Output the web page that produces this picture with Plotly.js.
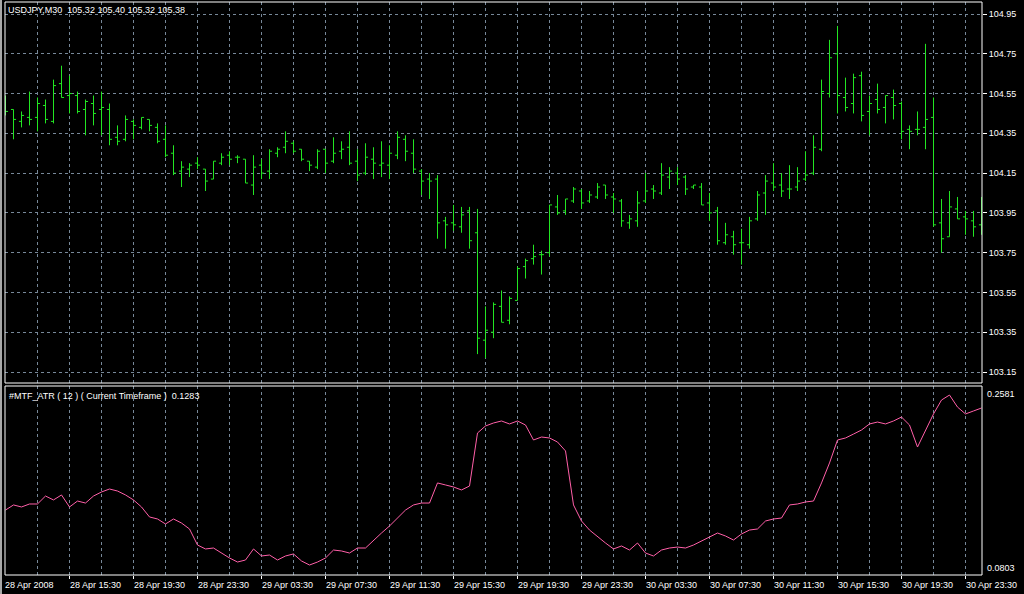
<!DOCTYPE html>
<html><head><meta charset="utf-8">
<script src="https://cdn.plot.ly/plotly-3.0.1.min.js"></script>
<style>html,body{margin:0;padding:0;background:#000;}#c{width:1024px;height:594px;}</style>
</head><body><div id="c"></div>
<script>
// USDJPY M30 bars, 28 Apr 2008 11:30 onward (bar index)
const openP = [104.50,104.47,104.41,104.43,104.43,104.49,104.41,104.60,104.54,104.54,104.47,104.50,104.47,104.47,104.33,104.32,104.41,104.38,104.42,104.38,
104.32,104.25,104.16,104.17,104.20,104.17,104.12,104.20,104.24,104.23,104.22,104.09,104.19,104.16,104.25,104.28,104.30,104.27,104.21,104.18,
104.27,104.21,104.26,104.28,104.21,104.15,104.22,104.19,104.19,104.24,104.32,104.25,104.16,104.12,104.12,103.91,103.90,103.88,103.96,103.85,
103.31,103.35,103.48,103.41,103.51,103.68,103.72,103.74,103.75,103.98,103.96,104.01,104.06,104.01,104.03,104.09,104.03,104.01,103.90,103.91,
104.01,104.07,104.05,104.13,104.15,104.13,104.08,104.08,104.00,103.96,103.80,103.83,103.80,103.79,103.92,104.05,104.10,104.09,104.07,104.08,
104.12,104.15,104.27,104.55,104.75,104.53,104.50,104.64,104.46,104.52,104.48,104.53,104.50,104.37,104.37,104.38,104.43,103.90,103.83,103.97,
103.93,103.91,103.89];
const highP = [104.54,104.47,104.46,104.56,104.53,104.52,104.62,104.69,104.64,104.56,104.52,104.54,104.56,104.50,104.39,104.44,104.42,104.43,104.42,104.40,
104.39,104.29,104.21,104.20,104.23,104.17,104.21,104.25,104.26,104.24,104.22,104.24,104.22,104.27,104.28,104.36,104.31,104.27,104.21,104.27,
104.27,104.33,104.31,104.36,104.27,104.30,104.28,104.31,104.29,104.36,104.34,104.32,104.17,104.15,104.14,103.93,103.99,103.98,103.98,103.97,
103.48,103.50,103.56,103.53,103.68,103.72,103.79,103.76,103.99,104.04,104.02,104.08,104.07,104.06,104.10,104.09,104.05,104.02,103.94,104.06,
104.15,104.09,104.20,104.18,104.18,104.14,104.09,104.10,104.05,103.98,103.90,103.86,103.87,103.93,104.06,104.14,104.20,104.15,104.19,104.18,
104.26,104.34,104.62,104.82,104.89,104.63,104.65,104.66,104.54,104.60,104.54,104.57,104.51,104.39,104.46,104.80,104.53,104.02,104.06,104.03,
103.96,103.96,104.03];
const lowP = [104.44,104.32,104.38,104.39,104.36,104.40,104.40,104.53,104.45,104.45,104.34,104.39,104.34,104.29,104.29,104.31,104.32,104.37,104.36,104.30,
104.23,104.14,104.08,104.13,104.17,104.06,104.12,104.19,104.19,104.20,104.10,104.04,104.12,104.12,104.23,104.25,104.25,104.21,104.16,104.17,
104.15,104.20,104.22,104.19,104.11,104.14,104.12,104.13,104.12,104.22,104.21,104.15,104.04,104.02,103.82,103.77,103.86,103.85,103.77,103.24,
103.22,103.32,103.40,103.39,103.51,103.62,103.69,103.64,103.73,103.94,103.94,104.00,103.97,104.00,104.02,104.02,103.95,103.88,103.87,103.88,
104.00,104.02,104.04,104.07,104.09,104.04,104.07,103.99,103.91,103.79,103.79,103.74,103.69,103.77,103.91,103.94,104.06,104.03,104.02,104.06,
104.11,104.14,104.26,104.53,104.45,104.46,104.45,104.41,104.34,104.45,104.40,104.42,104.32,104.27,104.34,104.27,103.88,103.75,103.83,103.92,
103.84,103.83,103.84];
const closeP = [104.46,104.42,104.44,104.42,104.50,104.42,104.59,104.53,104.55,104.46,104.51,104.45,104.48,104.32,104.31,104.42,104.39,104.43,104.39,104.31,
104.24,104.15,104.18,104.19,104.19,104.11,104.21,104.23,104.22,104.23,104.10,104.18,104.15,104.26,104.27,104.31,104.26,104.22,104.19,104.26,
104.20,104.25,104.27,104.20,104.14,104.23,104.20,104.20,104.25,104.33,104.26,104.17,104.11,104.11,103.90,103.89,103.89,103.94,103.81,103.32,
103.36,103.49,103.40,103.52,103.67,103.71,103.73,103.74,103.99,103.95,104.02,104.07,104.00,104.04,104.08,104.04,104.02,103.91,103.92,104.00,
104.06,104.06,104.14,104.16,104.12,104.07,104.09,103.99,103.95,103.81,103.84,103.79,103.80,103.91,104.04,104.11,104.08,104.06,104.07,104.11,
104.14,104.28,104.56,104.73,104.54,104.48,104.63,104.44,104.50,104.47,104.54,104.49,104.36,104.36,104.37,104.42,103.89,103.82,103.98,103.92,
103.92,103.88,103.89];
// #MTF_ATR(12) values
const atr = [0.1414,0.1462,0.1443,0.1471,0.1471,0.1546,0.1509,0.1556,0.1443,0.1499,0.1480,0.1546,0.1584,0.1612,0.1593,0.1556,0.1509,0.1443,0.1349,0.1330,
0.1283,0.1330,0.1292,0.1236,0.1085,0.1048,0.1057,0.1010,0.0963,0.0925,0.0944,0.1048,0.0982,0.0991,0.0944,0.0982,0.1001,0.0935,0.0897,0.0925,
0.0963,0.1038,0.1029,0.1010,0.1057,0.1057,0.1132,0.1198,0.1264,0.1339,0.1414,0.1462,0.1480,0.1480,0.1669,0.1650,0.1631,0.1603,0.1640,0.2139,
0.2205,0.2233,0.2252,0.2224,0.2252,0.2214,0.2073,0.2101,0.2092,0.2054,0.1970,0.1462,0.1311,0.1226,0.1161,0.1104,0.1048,0.1076,0.1038,0.1104,
0.1010,0.0982,0.1038,0.1057,0.1066,0.1057,0.1085,0.1123,0.1161,0.1198,0.1170,0.1132,0.1189,0.1226,0.1236,0.1311,0.1330,0.1339,0.1462,0.1471,
0.1490,0.1499,0.1669,0.1857,0.2073,0.2092,0.2129,0.2167,0.2224,0.2242,0.2224,0.2252,0.2289,0.2214,0.2007,0.2167,0.2318,0.2449,0.2496,0.2383,
0.2318,0.2346,0.2374];
const priceTicks = [103.15,103.35,103.55,103.75,103.95,104.15,104.35,104.55,104.75,104.95];
const timeLabels = ["28 Apr 2008","28 Apr 15:30","28 Apr 19:30","28 Apr 23:30","29 Apr 03:30","29 Apr 07:30","29 Apr 11:30","29 Apr 15:30",
"29 Apr 19:30","29 Apr 23:30","30 Apr 03:30","30 Apr 07:30","30 Apr 11:30","30 Apr 15:30","30 Apr 19:30","30 Apr 23:30"];
const atrScale = [0.0803, 0.2581];
const headerText = "USDJPY,M30  105.32 105.40 105.32 105.38";
const indText = "#MTF_ATR ( 12 ) ( Current Timeframe )  0.1283";

const idx = openP.map((_, i) => i);
const FONT = "Liberation Sans, Arial, sans-serif";
const GRID = "#778899";
const BAR = "#22e622";
const W = 1024, H = 594, L = 5, R = 42, T = 2, B = 19;
const plotH = H - T - B;
const mainBottom = 383, indTop = 386;
const mainDom = [(H - B - mainBottom) / plotH, 1];
const indDom = [0, (H - B - indTop) / plotH];
const pxPerBar = 8, firstBarPx = 5.5;
const xr = [(L - firstBarPx) / pxPerBar, (W - R - firstBarPx) / pxPerBar];
// price scale: 104.95 at y=14, 103.15 at y=372
const ppp = (104.95 - 103.15) / (372 - 14);
const yr = [103.15 - (mainBottom - 372) * ppp, 104.95 + (14 - T) * ppp];

const traces = [
  {type: 'ohlc', x: idx, open: openP, high: highP, low: lowP, close: closeP,
   xaxis: 'x2', yaxis: 'y', tickwidth: 0.32, hoverinfo: 'skip',
   increasing: {line: {color: BAR, width: 1}}, decreasing: {line: {color: BAR, width: 1}}},
  {type: 'scatter', mode: 'lines', x: idx, y: atr, xaxis: 'x', yaxis: 'y2',
   line: {color: '#ff5fa8', width: 1}, hoverinfo: 'skip'}
];

const labelBars = timeLabels.map((_, k) => k * 8);
const annotations = timeLabels.map((t, k) => ({
  x: labelBars[k], xref: 'x', y: 0, yref: 'paper', yanchor: 'top', xanchor: 'left',
  yshift: -3, xshift: k === 0 ? -3 : -2, text: t, showarrow: false,
  font: {family: FONT, size: 9, color: '#ffffff'}
}));
annotations.push(
  {x: 1 / (W - L - R), xref: 'paper', y: 1, yref: 'paper', xanchor: 'left', yanchor: 'top', yshift: -1,
   text: headerText, showarrow: false, font: {family: FONT, size: 9, color: '#ffffff'}},
  {x: 2 / (W - L - R), xref: 'paper', y: indDom[1], yref: 'paper', xanchor: 'left', yanchor: 'top', yshift: -3,
   text: indText, showarrow: false, font: {family: FONT, size: 9, color: '#ffffff'}},
  {x: 1, xref: 'paper', y: indDom[1], yref: 'paper', xanchor: 'left', yanchor: 'top', xshift: 3, yshift: -1,
   text: atrScale[1].toFixed(4), showarrow: false, font: {family: FONT, size: 9, color: '#ffffff'}},
  {x: 1, xref: 'paper', y: 0, yref: 'paper', xanchor: 'left', yanchor: 'bottom', xshift: 3, yshift: 0,
   text: atrScale[0].toFixed(4), showarrow: false, font: {family: FONT, size: 9, color: '#ffffff'}}
);

const gridX = {dtick: 4, tick0: 0, showgrid: true, gridcolor: GRID, griddash: '3px,3px', gridwidth: 1, ticks: ''};
const layout = {
  width: W, height: H, paper_bgcolor: '#000', plot_bgcolor: '#000',
  margin: {l: L, r: R, t: T, b: B}, showlegend: false,
  xaxis: {anchor: 'y2', domain: [0, 1], range: xr, tickmode: 'array', tickvals: labelBars.slice(1),
    showticklabels: false, ticks: 'outside', ticklen: 3, tickcolor: '#fff', tickwidth: 1,
    showgrid: true, gridcolor: GRID, griddash: '3px,3px', zeroline: false, showline: false,
    minor: gridX, rangeslider: {visible: false}},
  xaxis2: {anchor: 'y', matches: 'x', domain: [0, 1], range: xr, tickmode: 'array', tickvals: labelBars.slice(1),
    showticklabels: false, ticks: '', showgrid: true, gridcolor: GRID, griddash: '3px,3px', zeroline: false,
    minor: gridX, rangeslider: {visible: false}},
  yaxis: {domain: mainDom, range: yr, side: 'right', tickmode: 'array', tickvals: priceTicks,
    ticktext: priceTicks.map(v => v.toFixed(2)), ticks: 'outside', ticklen: 4, tickcolor: '#fff',
    tickfont: {family: FONT, size: 9, color: '#fff'}, showgrid: true, gridcolor: GRID, griddash: '3px,3px',
    zeroline: false, fixedrange: true},
  yaxis2: {domain: indDom, range: atrScale, side: 'right', showticklabels: false, ticks: '',
    showgrid: false, zeroline: false},
  shapes: [
    {type: 'rect', xref: 'paper', yref: 'paper', x0: 0, x1: 1, y0: mainDom[0], y1: 1, line: {color: '#fff', width: 1}},
    {type: 'rect', xref: 'paper', yref: 'paper', x0: 0, x1: 1, y0: indDom[0], y1: indDom[1], line: {color: '#fff', width: 1}},
    {type: 'rect', xref: 'paper', yref: 'paper', x0: -5 / (W - L - R), x1: -3 / (W - L - R), y0: -B / plotH, y1: 1 + T / plotH,
     line: {width: 0}, fillcolor: '#a8a8a8'}
  ],
  annotations: annotations
};
Plotly.newPlot('c', traces, layout, {staticPlot: true, displayModeBar: false});
</script></body></html>
